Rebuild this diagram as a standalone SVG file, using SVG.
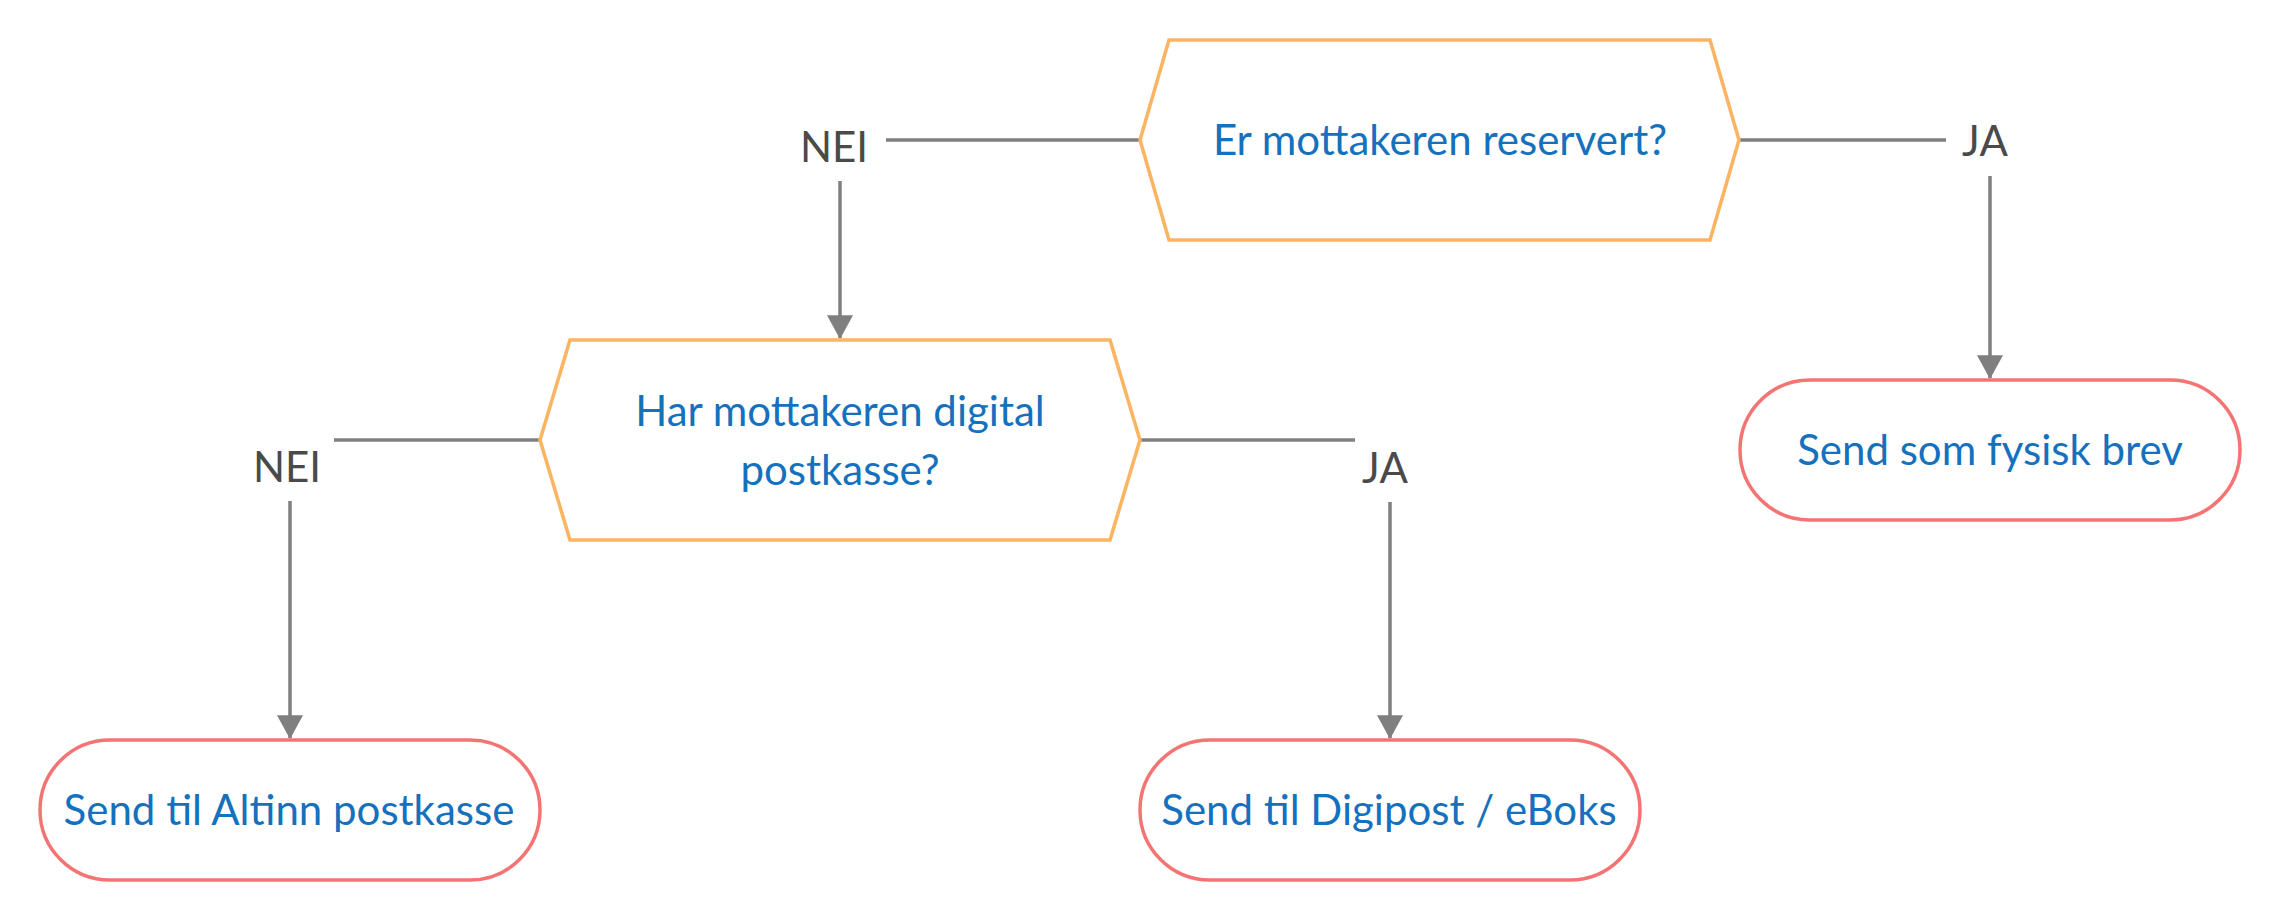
<svg xmlns="http://www.w3.org/2000/svg" width="2280" height="920" viewBox="0 0 2280 920">
<style>
.hex{fill:#fff;stroke:#fdb462;stroke-width:3.5}
.term{fill:#fff;stroke:#f47474;stroke-width:3.5}
.t{font-family:Lato,"Liberation Sans",sans-serif;font-size:42px;fill:#1571bd;text-anchor:middle}
.lbl{font-family:Lato,"Liberation Sans",sans-serif;font-size:42px;fill:#4a4a4a;text-anchor:middle}
.c{fill:none;stroke:#7f7f7f;stroke-width:3.5}
</style>
<defs>
<marker id="ah" markerUnits="userSpaceOnUse" markerWidth="24" markerHeight="26" refX="21" refY="12" orient="auto" viewBox="0 0 22 24">
<path d="M0,0 L22,12 L0,24 Z" fill="#7f7f7f"/>
</marker>
</defs>
<rect width="2280" height="920" fill="#fff"/>
<g id="connectors">
<path class="c" d="M1140,140 H886"/>
<path class="c" d="M840,181 V338" marker-end="url(#ah)"/>
<path class="c" d="M1739,140 H1946"/>
<path class="c" d="M1990,176 V378" marker-end="url(#ah)"/>
<path class="c" d="M540,440 H334"/>
<path class="c" d="M290,501 V738" marker-end="url(#ah)"/>
<path class="c" d="M1140,440 H1355"/>
<path class="c" d="M1390,502 V738" marker-end="url(#ah)"/>
<text class="lbl" x="834" y="162">NEI</text>
<text class="lbl" x="1985" y="156">JA</text>
<text class="lbl" x="287" y="482">NEI</text>
<text class="lbl" x="1385" y="483">JA</text>
</g>
<g id="q1">
<polygon class="hex" points="1140,140 1169,40 1710,40 1739,140 1710,240 1169,240"/>
<text class="t" x="1440" y="155">Er mottakeren reservert?</text>
</g>
<g id="q2">
<polygon class="hex" points="540,440 570,340 1110,340 1140,440 1110,540 570,540"/>
<text class="t" x="840" y="426">Har mottakeren digital</text>
<text class="t" x="840" y="485">postkasse?</text>
</g>
<g id="brev">
<rect class="term" x="1740" y="380" width="500" height="140" rx="70"/>
<text class="t" x="1990" y="465">Send som fysisk brev</text>
</g>
<g id="altinn">
<rect class="term" x="40" y="740" width="500" height="140" rx="70"/>
<text class="t" x="289" y="825">Send til Altinn postkasse</text>
</g>
<g id="digipost">
<rect class="term" x="1140" y="740" width="500" height="140" rx="70"/>
<text class="t" x="1389" y="825">Send til Digipost / eBoks</text>
</g>
</svg>
